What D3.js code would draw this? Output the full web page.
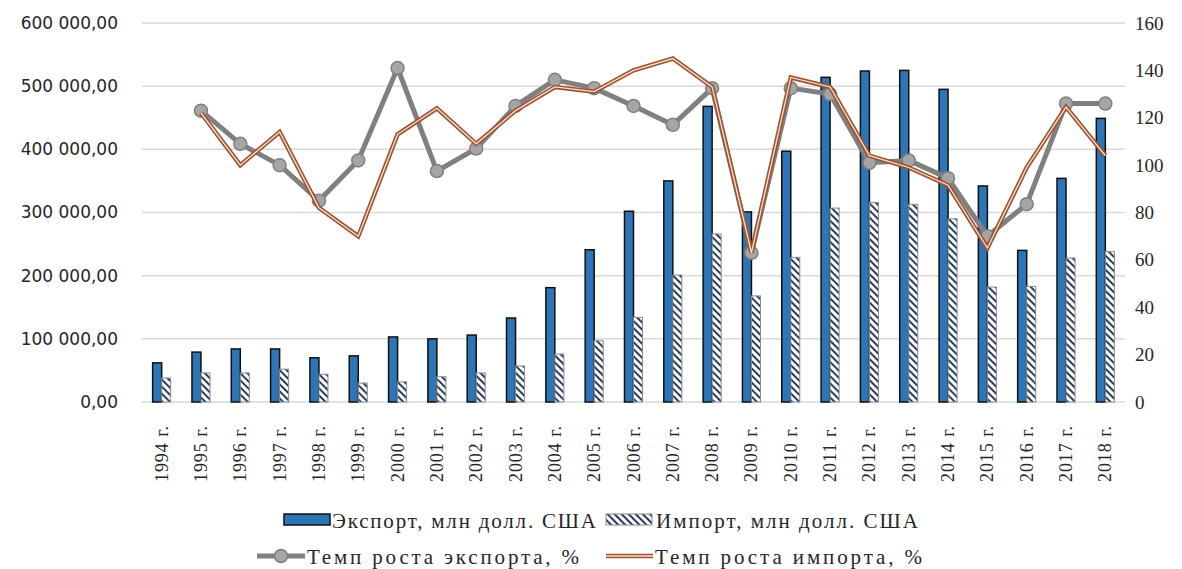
<!DOCTYPE html>
<html>
<head>
<meta charset="utf-8">
<script src="https://cdn.jsdelivr.net/npm/d3@7"></script>
<style>
body{margin:0;background:#fff;}
svg{display:block;}
</style>
</head>
<body>
<div id="chart"></div>
<script>
// data
var years = ["1994","1995","1996","1997","1998","1999","2000","2001","2002","2003","2004","2005","2006",
  "2007","2008","2009","2010","2011","2012","2013","2014","2015","2016","2017","2018"];
var exportVals = [62000,79000,84000,84000,70000,73000,103000,100000,106000,133000,181000,241000,302000,
  350000,468000,301000,397000,514000,524000,525000,495000,342000,240000,354000,449000];
var importVals = [38000,46000,46000,52000,44000,30000,32000,40000,46000,57000,76000,97000,134000,
  201000,266000,168000,229000,307000,316000,313000,290000,182000,183000,228000,238000];
// growth rates start in 1995
var exportGrowth = [null,123,109,100,85,102,141,97.5,107,125,136,132.5,125,117,132.5,63,132.5,130,101,102,94.5,70,83.5,126,126];
var importGrowth = [null,122,100,114,82,70,113,124,109,123,133,131,140,145,133,63,137,133,104,99,91.5,65,99,124.5,104];
var leftTicks = [0,100000,200000,300000,400000,500000,600000];
var rightTicks = [0,20,40,60,80,100,120,140,160];
var legendNames = ["Экспорт, млн долл. США","Импорт, млн долл. США","Темп роста экспорта, %","Темп роста импорта, %"];

var W = 1182, H = 569;
var svg = d3.select("#chart").append("svg").attr("width",W).attr("height",H);

var defs = svg.append("defs");
var pat = defs.append("pattern").attr("id","hatch").attr("patternUnits","userSpaceOnUse")
  .attr("width",5).attr("height",5).attr("patternTransform","rotate(-45)");
pat.append("rect").attr("width",5).attr("height",5).attr("fill","#fff");
pat.append("rect").attr("x",0).attr("y",0).attr("width",2).attr("height",5).attr("fill","#2b3d5f");

var x0 = d3.scaleBand().domain(years).range([142,1125]);
var x1 = d3.scaleBand().domain(["exp","imp"]).range([0,x0.bandwidth()]).paddingInner(0).paddingOuter(1.18);
var yL = d3.scaleLinear().domain([0,600000]).range([402,23]);
var yR = d3.scaleLinear().domain([0,160]).range([402,23]);

var fmt = d3.formatLocale({decimal:",",thousands:" ",grouping:[3],currency:["",""]}).format(",.2f");

// grid
svg.append("g").selectAll("line").data(leftTicks).enter().append("line")
  .attr("x1",142).attr("x2",1125)
  .attr("y1",d=>yL(d)).attr("y2",d=>yL(d))
  .attr("stroke","#d9d9d9").attr("stroke-width",1.5);

var axL = svg.append("g").attr("transform","translate(142,0)")
  .call(d3.axisLeft(yL).tickValues(leftTicks).tickFormat(fmt).tickSize(0).tickPadding(24));
axL.select(".domain").remove();
axL.selectAll("text").attr("font-family","DejaVu Sans").attr("font-size",17).attr("fill","#262626");

var axR = svg.append("g").attr("transform","translate(1125,0)")
  .call(d3.axisRight(yR).tickValues(rightTicks).tickSize(0).tickPadding(10));
axR.select(".domain").remove();
axR.selectAll("text").attr("font-family","Liberation Serif").attr("font-size",19).attr("fill","#262626");

// bars
var g = svg.append("g");
g.selectAll("rect.exp").data(years).enter().append("rect").attr("class","exp")
  .attr("x",(d)=>x0(d)+x1("exp"))
  .attr("y",(d,i)=>yL(exportVals[i]))
  .attr("width",x1.bandwidth())
  .attr("height",(d,i)=>yL(0)-yL(exportVals[i]))
  .attr("fill","#2e75b6").attr("stroke","#111").attr("stroke-width",1.5);
g.selectAll("rect.imp").data(years).enter().append("rect").attr("class","imp")
  .attr("x",(d)=>x0(d)+x1("imp"))
  .attr("y",(d,i)=>yL(importVals[i]))
  .attr("width",x1.bandwidth())
  .attr("height",(d,i)=>yL(0)-yL(importVals[i]))
  .attr("fill","url(#hatch)").attr("stroke","#8a8a8a").attr("stroke-width",1);

var cx = d => x0(d) + x0.bandwidth()/2;

// growth lines
var expPts = years.map((d,i)=>({x:cx(d),v:exportGrowth[i]})).filter(p=>p.v!==null);
var impPts = years.map((d,i)=>({x:cx(d),v:importGrowth[i]})).filter(p=>p.v!==null);
var line = d3.line().x(p=>p.x).y(p=>yR(p.v));

svg.append("path").datum(expPts).attr("d",line).attr("fill","none")
  .attr("stroke","#808080").attr("stroke-width",5).attr("stroke-linejoin","round");
svg.append("g").selectAll("circle").data(expPts).enter().append("circle")
  .attr("cx",p=>p.x).attr("cy",p=>yR(p.v)).attr("r",6.5)
  .attr("fill","#a5a5a5").attr("stroke","#808080").attr("stroke-width",1.5);

svg.append("path").datum(impPts).attr("d",line).attr("fill","none")
  .attr("stroke","#a0522d").attr("stroke-width",4.5).attr("stroke-linejoin","miter");
svg.append("path").datum(impPts).attr("d",line).attr("fill","none")
  .attr("stroke","#f4e4d8").attr("stroke-width",1.3).attr("stroke-linejoin","miter");

// x labels
svg.append("g").selectAll("text").data(years).enter().append("text")
  .attr("transform",d=>"translate("+(cx(d)+6)+",482) rotate(-90)")
  .attr("font-family","Liberation Serif").attr("font-size",18).attr("fill","#262626")
  .attr("textLength",56).attr("lengthAdjust","spacing")
  .text(d=>d+" г.");

// legend
var lg = svg.append("g").attr("font-family","Liberation Serif").attr("font-size",21).attr("fill","#262626");
lg.append("rect").attr("x",284).attr("y",514).attr("width",46).attr("height",11)
  .attr("fill","#2e75b6").attr("stroke","#111").attr("stroke-width",1.5);
lg.append("text").attr("x",332).attr("y",528).attr("textLength",264).attr("lengthAdjust","spacing").text(legendNames[0]);
lg.append("rect").attr("x",606).attr("y",514).attr("width",46).attr("height",11)
  .attr("fill","url(#hatch)").attr("stroke","#8a8a8a");
lg.append("text").attr("x",656).attr("y",528).attr("textLength",262).attr("lengthAdjust","spacing").text(legendNames[1]);

lg.append("line").attr("x1",257).attr("x2",305).attr("y1",556).attr("y2",556)
  .attr("stroke","#808080").attr("stroke-width",5);
lg.append("circle").attr("cx",281).attr("cy",556).attr("r",6.5).attr("fill","#a5a5a5").attr("stroke","#808080").attr("stroke-width",1.5);
lg.append("text").attr("x",307).attr("y",564).attr("textLength",272).attr("lengthAdjust","spacing").text(legendNames[2]);
lg.append("line").attr("x1",606).attr("x2",653).attr("y1",556).attr("y2",556)
  .attr("stroke","#a0522d").attr("stroke-width",4.5);
lg.append("line").attr("x1",606).attr("x2",653).attr("y1",556).attr("y2",556)
  .attr("stroke","#f4e4d8").attr("stroke-width",1.3);
lg.append("text").attr("x",655).attr("y",564).attr("textLength",267).attr("lengthAdjust","spacing").text(legendNames[3]);
</script>
</body>
</html>
